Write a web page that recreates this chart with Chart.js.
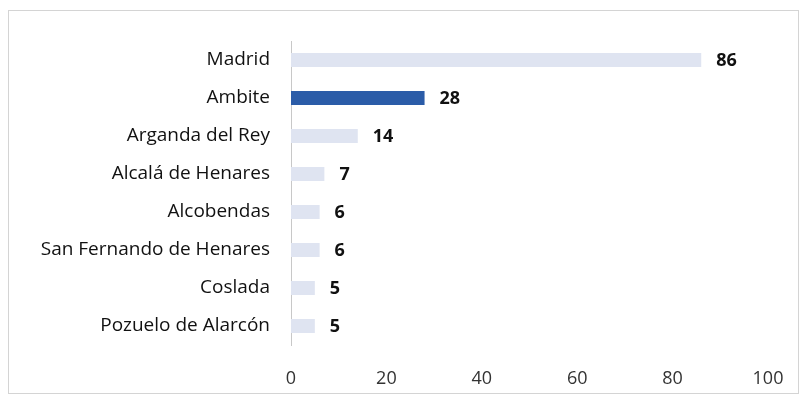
<!DOCTYPE html>
<html>
<head>
<meta charset="utf-8">
<script src="https://cdn.jsdelivr.net/npm/chart.js@4/dist/chart.umd.min.js"></script>
<style>
html,body{margin:0;padding:0;background:#fff;}
#wrap{position:relative;width:809px;height:400px;}
#frame{position:absolute;left:8px;top:10px;width:791px;height:384px;border:1px solid #d4d4d4;box-sizing:border-box;pointer-events:none;}
canvas{position:absolute;left:0;top:0;}
</style>
</head>
<body>
<div id="wrap">
<canvas id="c" width="809" height="400"></canvas>
<div id="frame"></div>
</div>
<script>
const categories = ["Madrid","Ambite","Arganda del Rey","Alcalá de Henares","Alcobendas","San Fernando de Henares","Coslada","Pozuelo de Alarcón"];
const values = [86, 28, 14, 7, 6, 6, 5, 5];
const xTicks = [0, 20, 40, 60, 80, 100];
const highlight = "Ambite";

const FONT = "'Open Sans', sans-serif";

const valueLabels = {
  id: 'valueLabels',
  afterDatasetsDraw(chart) {
    const ctx = chart.ctx;
    const meta = chart.getDatasetMeta(0);
    ctx.save();
    ctx.font = "bold 18px " + FONT;
    ctx.fillStyle = "#111";
    ctx.textAlign = "left";
    ctx.textBaseline = "middle";
    meta.data.forEach((bar, i) => {
      ctx.fillText(String(values[i]), bar.x + 15, bar.y + 1);
    });
    ctx.restore();
  }
};

new Chart(document.getElementById('c'), {
  type: 'bar',
  data: {
    labels: categories,
    datasets: [{
      data: values,
      backgroundColor: categories.map(c => c === highlight ? '#2b5ca8' : '#dfe4f1'),
      borderWidth: 0,
      barPercentage: 0.37,
      categoryPercentage: 1.0
    }]
  },
  options: {
    indexAxis: 'y',
    responsive: false,
    animation: false,
    layout: { padding: { top: 41, right: 41, bottom: 0, left: 0 } },
    plugins: { legend: { display: false }, tooltip: { enabled: false } },
    scales: {
      x: {
        min: 0, max: 100,
        afterBuildTicks(scale) { scale.ticks = xTicks.map(v => ({ value: v })); },
        afterFit(scale) { scale.height = 55; },
        grid: { display: false, drawTicks: false },
        border: { display: false },
        ticks: { padding: 23, color: '#333', font: { family: FONT, size: 18 } }
      },
      y: {
        afterFit(scale) { scale.width = 291; },
        grid: { display: false, drawTicks: false },
        border: { display: true, color: '#c8c8c8', width: 1 },
        ticks: { padding: 21, color: '#111', font: { family: FONT, size: 19 } }
      }
    }
  },
  plugins: [valueLabels]
});
</script>
</body>
</html>
